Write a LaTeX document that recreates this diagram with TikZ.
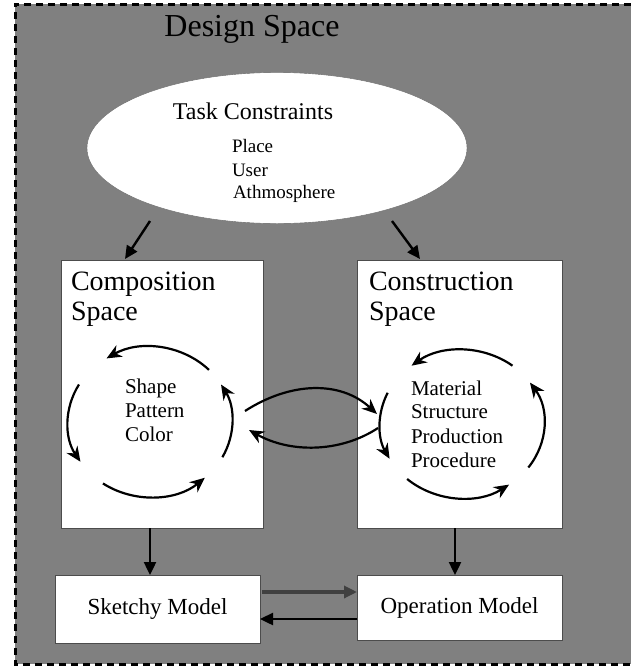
\documentclass[tikz,border=0pt]{standalone}
\usepackage{fontspec}
\setmainfont{Liberation Serif}
\usetikzlibrary{shapes.geometric,arrows.meta}
\definecolor{bggray}{HTML}{808080}
\tikzset{
  every node/.style={inner sep=0pt, outer sep=0pt},
  spacebox/.style={draw=black!70, line width=0.8pt, fill=white},
  arr/.style={-{Triangle[length=13pt,width=12pt]}, line width=2.4pt},
  cyc/.style={-{Stealth[length=15pt,width=13pt]}, line width=2.2pt},
  txt/.style={font=\fontsize{21}{25}\selectfont, anchor=west},
}
\begin{document}
\begin{tikzpicture}[x=1pt,y=-1pt]
\useasboundingbox (0,0) rectangle (631,667);
\fill[bggray] (15,4) rectangle (631,664);
\draw[line width=3pt, dash pattern=on 7pt off 5pt] (631,4) -- (15,4) -- (15,664) -- (631,664);
\node[font=\fontsize{32}{36}\selectfont] (title) at (252,29) {Design Space};
% ellipse
\node[ellipse, draw=black!60, fill=white, minimum width=380pt, minimum height=151pt] (task) at (277,148) {};
\node[font=\fontsize{24}{28}\selectfont] (tc) at (253,111) {Task Constraints};
\node[txt, font=\fontsize{19}{22}\selectfont] (place) at (232,146) {Place};
\node[txt, font=\fontsize{19}{22}\selectfont] (user) at (232,170) {User};
\node[txt, font=\fontsize{19}{22}\selectfont] (atm) at (233,194) {Athmosphere};
% space boxes
\node[spacebox, minimum width=202pt, minimum height=268pt] (comp) at (162,394) {};
\node[spacebox, minimum width=205pt, minimum height=268pt] (cons) at (459.5,394) {};
\node[font=\fontsize{28}{33}\selectfont, anchor=north west, align=left] (compt) at (71,272) {Composition\\[-3pt]Space};
\node[font=\fontsize{28}{33}\selectfont, anchor=north west, align=left] (const) at (369,272) {Construction\\[-3pt]Space};
% arrows from ellipse
\coordinate (tl) at (150,221);
\coordinate (tr) at (392,221);
\draw[arr] (tl) -- (125,259);
\draw[arr] (tr) -- (420,259);
% composition texts
\node[txt] (shape) at (125,388) {Shape};
\node[txt] (pattern) at (125,411) {Pattern};
\node[txt] (color) at (125,434) {Color};
% composition cycle
\begin{scope}[shift={(150,422)}, yscale=-1]
\draw[cyc] (44:82 and 75) arc[start angle=44, end angle=122, x radius=82, y radius=75];
\draw[cyc] (150:82 and 75) arc[start angle=150, end angle=212, x radius=82, y radius=75];
\draw[cyc] (235:82 and 75) arc[start angle=235, end angle=312, x radius=82, y radius=75];
\draw[cyc] (-28:82 and 75) arc[start angle=-28, end angle=30, x radius=82, y radius=75];
\end{scope}
% construction texts
\node[txt] (mat) at (411,388) {Material};
\node[txt] (str) at (411,412) {Structure};
\node[txt] (prod) at (411,436) {Production};
\node[txt] (proc) at (411,460) {Procedure};
% construction cycle
\begin{scope}[shift={(462,424)}, yscale=-1]
\draw[cyc] (52:82 and 74) arc[start angle=52, end angle=128, x radius=82, y radius=74];
\draw[cyc] (155:82 and 74) arc[start angle=155, end angle=208, x radius=82, y radius=74];
\draw[cyc] (228:82 and 74) arc[start angle=228, end angle=305, x radius=82, y radius=74];
\draw[cyc] (-36:82 and 74) arc[start angle=-36, end angle=34, x radius=82, y radius=74];
\end{scope}
% cross arrows
\coordinate (xl1) at (245,411);
\coordinate (xr1) at (377,414);
\coordinate (xr2) at (378,428);
\coordinate (xl2) at (249,430);
\draw[cyc] (xl1) .. controls (290,382) and (340,380) .. (xr1);
\draw[cyc] (xr2) .. controls (340,453) and (290,453) .. (xl2);
% bottom boxes
\node[spacebox, minimum width=205pt, minimum height=68pt, font=\fontsize{23}{27}\selectfont] (sketch) at (157.5,609) {Sketchy Model};
\node[spacebox, minimum width=205pt, minimum height=65pt, font=\fontsize{23}{27}\selectfont] (oper) at (459.5,607.5) {Operation Model};
\draw[arr] (comp.south -| 150,0) -- (sketch.north -| 150,0);
\draw[arr] (cons.south -| 455,0) -- (oper.north -| 455,0);
\draw[arr, line width=3.2pt, draw=black!75] (262,592) -- (oper.west |- 0,592);
\draw[arr] (oper.west |- 0,619) -- (sketch.east |- 0,619);
\end{tikzpicture}
\end{document}
